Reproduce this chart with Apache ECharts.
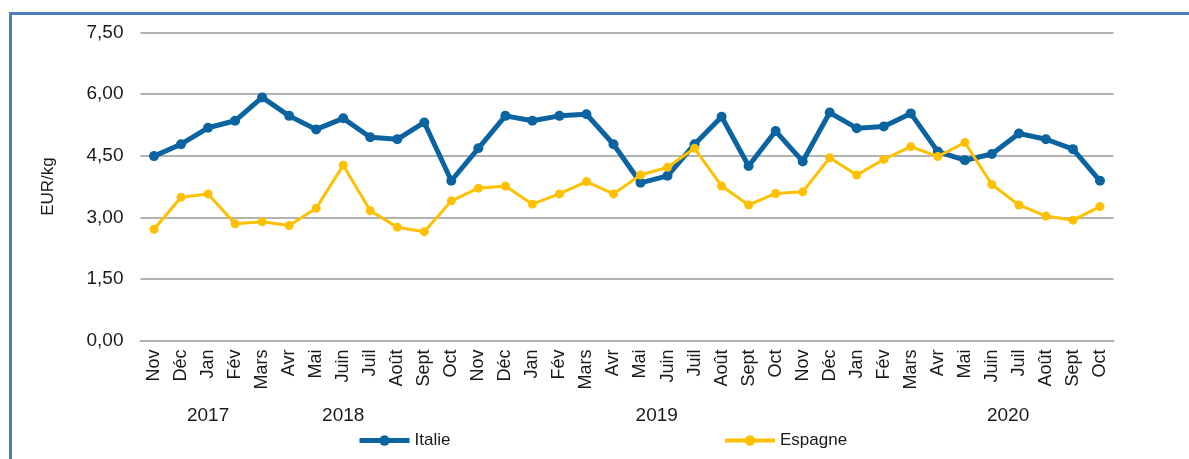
<!DOCTYPE html>
<html>
<head>
<meta charset="utf-8">
<script src="https://cdn.jsdelivr.net/npm/echarts@6/dist/echarts.min.js"></script>
<style>
  html, body { margin: 0; padding: 0; background: #ffffff; }
  #chart { width: 1189px; height: 459px; }
</style>
</head>
<body>
<div id="chart"></div>
<script>
// Monthly prices, Nov 2017 – Oct 2020 (EUR/kg)
const months = [
  'Nov', 'Déc',
  'Jan', 'Fév', 'Mars', 'Avr', 'Mai', 'Juin', 'Juil', 'Août', 'Sept', 'Oct', 'Nov', 'Déc',
  'Jan', 'Fév', 'Mars', 'Avr', 'Mai', 'Juin', 'Juil', 'Août', 'Sept', 'Oct', 'Nov', 'Déc',
  'Jan', 'Fév', 'Mars', 'Avr', 'Mai', 'Juin', 'Juil', 'Août', 'Sept', 'Oct'
];

const italie = [
  4.49, 4.78,
  5.18, 5.35, 5.92, 5.47, 5.14, 5.41, 4.95, 4.90, 5.31, 3.89, 4.68, 5.47,
  5.35, 5.47, 5.51, 4.78, 3.84, 4.01, 4.78, 5.45, 4.25, 5.10, 4.36, 5.55,
  5.17, 5.21, 5.53, 4.60, 4.39, 4.54, 5.04, 4.90, 4.66, 3.89
];

const espagne = [
  2.71, 3.49,
  3.57, 2.84, 2.89, 2.80, 3.22, 4.27, 3.16, 2.76, 2.65, 3.40, 3.71, 3.76,
  3.32, 3.57, 3.87, 3.57, 4.03, 4.22, 4.68, 3.76, 3.30, 3.58, 3.62, 4.45,
  4.03, 4.41, 4.72, 4.48, 4.82, 3.80, 3.30, 3.03, 2.93, 3.26
];

// Year captions under the month labels, placed at a (fractional) month index
const years = ['2017', '2018', '2019', '2020'];
const yearAt = [2, 7, 18.6, 31.6];

const yTicks = [0, 1.5, 3, 4.5, 6, 7.5];

const FONT = '"Liberation Sans", Arial, sans-serif';
const BLUE = '#0b63a0';
const GOLD = '#fec000';
const TEXT = '#1a1a1a';

const chart = echarts.init(document.getElementById('chart'), null, { renderer: 'canvas' });

function legendFor(name, left, color, width) {
  return {
    data: [{
      name: name,
      lineStyle: { width: width, color: color },
      itemStyle: { color: color }
    }],
    left: left,
    top: 432,
    padding: 0,
    itemWidth: 50,
    itemHeight: 13,
    itemGap: 5,
    textStyle: { color: TEXT, fontSize: 17, fontFamily: FONT }
  };
}

const option = {
  backgroundColor: '#ffffff',
  animation: false,
  textStyle: { fontFamily: FONT },
  grid: { left: 140.5, right: 75.5, top: 32.5, bottom: 118.5, containLabel: false },
  xAxis: {
    type: 'category',
    data: months,
    boundaryGap: true,
    axisLine: { show: true, lineStyle: { color: '#b2b2b2', width: 2 } },
    axisTick: { show: false },
    axisLabel: {
      rotate: 90,
      margin: 9,
      interval: 0,
      color: TEXT,
      fontSize: 18,
      fontFamily: FONT
    }
  },
  yAxis: {
    type: 'value',
    min: yTicks[0],
    max: yTicks[yTicks.length - 1],
    interval: 1.5,
    name: 'EUR/kg',
    nameLocation: 'middle',
    nameGap: 84,
    nameRotate: 90,
    nameTextStyle: { color: TEXT, fontSize: 17, fontFamily: FONT },
    axisLine: { show: false },
    axisTick: { show: false },
    splitLine: { lineStyle: { color: '#b2b2b2', width: 2 } },
    axisLabel: {
      margin: 17,
      color: TEXT,
      fontSize: 19,
      fontFamily: FONT,
      formatter: v => v.toFixed(2).replace('.', ',')
    }
  },
  legend: [
    legendFor('Italie', 357, BLUE, 5),
    legendFor('Espagne', 723, GOLD, 4)
  ],
  series: [
    {
      name: 'Italie',
      type: 'line',
      data: italie,
      color: BLUE,
      symbol: 'circle',
      symbolSize: 10,
      lineStyle: { width: 5, color: BLUE },
      itemStyle: { color: BLUE },
      z: 3
    },
    {
      name: 'Espagne',
      type: 'line',
      data: espagne,
      color: GOLD,
      symbol: 'circle',
      symbolSize: 9,
      lineStyle: { width: 3, color: GOLD },
      itemStyle: { color: GOLD },
      z: 4
    }
  ]
};

chart.setOption(option);

// Year captions and the frame around the chart
function xForIndex(pos) {
  const i0 = Math.floor(pos);
  const p0 = chart.convertToPixel({ xAxisIndex: 0 }, i0);
  const p1 = chart.convertToPixel({ xAxisIndex: 0 }, i0 + 1);
  return p0 + (p1 - p0) * (pos - i0);
}

const graphics = years.map((y, k) => ({
  type: 'text',
  x: xForIndex(yearAt[k]),
  y: 416,
  style: {
    text: y,
    fill: TEXT,
    font: '19px ' + FONT,
    textAlign: 'center',
    textVerticalAlign: 'middle'
  }
}));

graphics.push({
  type: 'rect',
  shape: { x: 10.5, y: 13.5, width: 1300, height: 600 },
  style: { fill: null, stroke: '#4a7ebb', lineWidth: 3 },
  silent: true
});

chart.setOption({ graphic: graphics });
</script>
</body>
</html>
